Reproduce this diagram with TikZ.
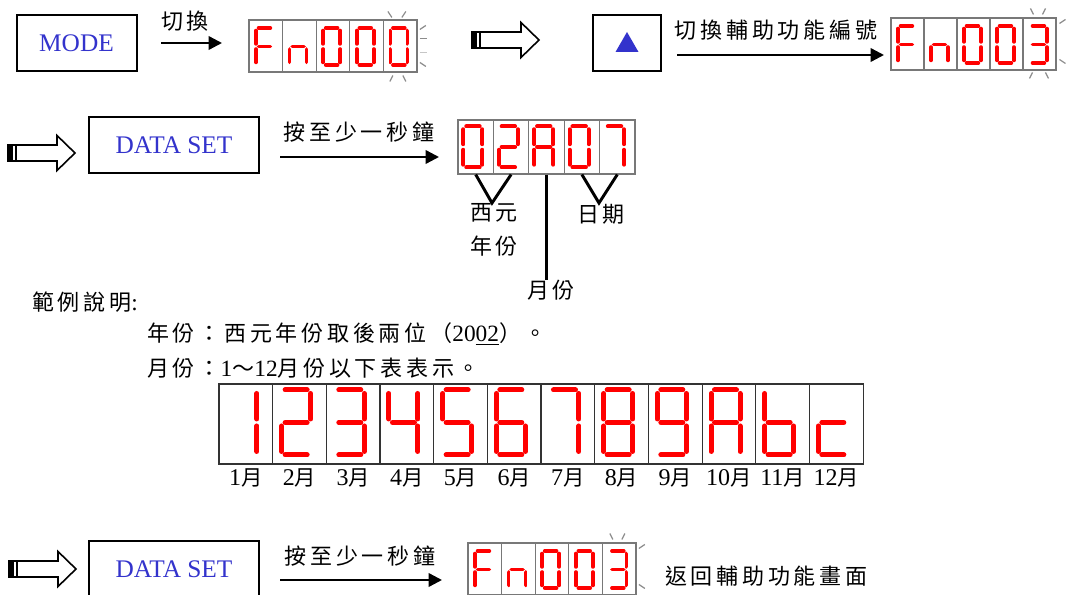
\documentclass[tikz,border=0pt]{standalone}
\usepackage{fontspec}
\setmainfont{Liberation Serif}
\newfontfamily\cjk[LetterSpace=17]{Noto Sans CJK TC}
\usetikzlibrary{arrows.meta, positioning}
\definecolor{keyblue}{RGB}{51,51,204}
\definecolor{segred}{RGB}{255,0,0}
\definecolor{framegray}{RGB}{120,120,120}
\definecolor{blinkgray}{RGB}{140,140,140}

\newcommand{\lnum}{\rmfamily\fontsize{17.5}{20}\selectfont}

% seven segment digits: a segment is a pair of corner points
\newcommand{\defdigit}[2]{\expandafter\def\csname dig#1\endcsname{#2}}
\defdigit{0}{tl/tr,tr/mr,mr/br,bl/br,ml/bl,tl/ml}
\defdigit{1}{tr/mr,mr/br}
\defdigit{2}{tl/tr,tr/mr,ml/mr,ml/bl,bl/br}
\defdigit{3}{tl/tr,tr/mr,mr/br,bl/br,ml/mr}
\defdigit{4}{tl/ml,ml/mr,tr/mr,mr/br}
\defdigit{5}{tl/tr,tl/ml,ml/mr,mr/br,bl/br}
\defdigit{6}{tl/tr,tl/ml,ml/bl,bl/br,mr/br,ml/mr}
\defdigit{7}{tl/tr,tr/mr,mr/br}
\defdigit{8}{tl/tr,tr/mr,mr/br,bl/br,ml/bl,tl/ml,ml/mr}
\defdigit{9}{tl/tr,tr/mr,mr/br,bl/br,tl/ml,ml/mr}
\defdigit{A}{tl/tr,tr/mr,mr/br,ml/bl,tl/ml,ml/mr}
\defdigit{b}{tl/ml,ml/bl,bl/br,mr/br,ml/mr}
\defdigit{c}{ml/mr,ml/bl,bl/br}
\defdigit{F}{tl/tr,tl/ml,ml/bl,ml/mr}
\defdigit{n}{ml/mr,ml/bl,mr/br}

% #1 line width, #2 top left, #3 width, #4 height, #5 digit
\newcommand{\segdigit}[5]{%
  \begin{scope}[shift={#2}]
    \coordinate (tl) at (0,0);
    \coordinate (tr) at (#3,0);
    \coordinate (ml) at (0,#4/2);
    \coordinate (mr) at (#3,#4/2);
    \coordinate (bl) at (0,#4);
    \coordinate (br) at (#3,#4);
    \edef\seglist{\csname dig#5\endcsname}%
    \foreach \p/\q in \seglist {\draw[seg=#1] (\p) -- (\q);}
  \end{scope}}

% blinking marks round the last digit
\newcommand{\blinkmarks}[1]{%
  \begin{scope}[shift={#1}]
    \draw[blink] (8,-9) -- (11,-3);
    \draw[blink] (23,-9) -- (20,-3);
    \draw[blink] (37,6) -- (43,2);
    \draw[blink] (37,42) -- (43,46);
    \draw[blink] (10,55) -- (7,61);
    \draw[blink] (23,55) -- (26,61);
  \end{scope}}

% hollow "then" arrow, #1 = middle of its tail
\newcommand{\thenarrow}[1]{%
  \begin{scope}[shift={#1}]
    \draw[line width=1.2pt, fill=white] (0,-8) -- (49,-8) -- (49,-17.5) -- (67,0)
      -- (49,17.5) -- (49,8) -- (0,8) -- cycle;
    \fill (0,-8) rectangle (5,8);
    \draw[line width=1pt] (8,-8) -- (8,8);
  \end{scope}}

\begin{document}
\begin{tikzpicture}[x=0.75pt, y=-0.75pt,
    key/.style={draw, line width=1.5pt, minimum height=42pt, text=keyblue, font=\fontsize{19}{22}\selectfont},
    arr/.style={-{Triangle[length=10pt, width=10pt]}, line width=1.8pt},
    lbl/.style={font=\cjk\fontsize{16.5}{19}\selectfont, inner sep=0pt},
    cell/.style={draw=framegray, line width=0.8pt, inner sep=0pt},
    seg/.style={draw=segred, line width=#1, line cap=round, shorten <=0.7*#1, shorten >=0.7*#1},
    blink/.style={draw=blinkgray, line width=0.9pt},
    bracket/.style={line width=2.2pt},
    month/.style={font=\rmfamily\fontsize{18}{20}\selectfont, inner sep=0pt}]
  \useasboundingbox (0,0) rectangle (1068,595);
  \clip (0,0) rectangle (1068,595);

  % first row
  \node[key, minimum width=90pt] (mode) at (76.5,43) {MODE};
  \node[lbl] (swlbl) at (185,21) {切換};
  \coordinate (a1s) at (161,43);
  \coordinate (a1e) at (222,43);
  \draw[arr] (a1s) -- (a1e);

  \foreach \c [count=\i] in {F,n,0,0,0} {
    \node[cell, minimum width=25.2pt, minimum height=39pt] (fa\i) at ({249+33.6*(\i-0.5)},46) {};
    \segdigit{2.8pt}{([shift={(7.5,8.5)}]fa\i.north west)}{17}{37}{\c}
  }
  \begin{scope}[shift={(fa5.north west)}]
    \draw[blink] (5,-8) -- (9,-2);
    \draw[blink] (23,-8) -- (19,-2);
    \draw[blink] (37,10) -- (43,6);
    \draw[blink] (37,19) -- (44,19);
    \draw[blink, blinkgray!50] (37,33) -- (44,33);
    \draw[blink] (37,43) -- (43,47);
    \draw[blink] (10,56) -- (7,62);
    \draw[blink] (20,56) -- (23,62);
  \end{scope}

  \thenarrow{(472,40)}

  \node[key, minimum width=51pt] (up) at (627,43) {};
  \fill[keyblue] ([shift={(-11.5,9)}]up.center) -- ([shift={(11.5,9)}]up.center)
    -- ([shift={(0,-11)}]up.center) -- cycle;
  \node[lbl] (fnlbl) at (776,30) {切換輔助功能編號};
  \coordinate (a2s) at (677,55);
  \coordinate (a2e) at (884,55);
  \draw[arr] (a2s) -- (a2e);

  \foreach \c [count=\i] in {F,n,0,0,3} {
    \node[cell, minimum width=24.75pt, minimum height=39pt] (fb\i) at ({891+33*(\i-0.5)},44) {};
    \segdigit{2.8pt}{([shift={(7.5,8.5)}]fb\i.north west)}{17}{37}{\c}
  }
  \blinkmarks{(fb5.north west)}

  % second row
  \thenarrow{(8,153)}
  \node[key, minimum width=127.5pt] (set1) at (174,145) {DATA SET};
  \node[lbl] (holdlbl) at (359,132) {按至少一秒鐘};
  \coordinate (a3s) at (280,157);
  \coordinate (a3e) at (439,157);
  \draw[arr] (a3s) -- (a3e);

  \foreach \c [count=\i] in {0,2,A,0,7} {
    \node[cell, minimum width=26.55pt, minimum height=40.5pt] (d\i) at ({458+35.4*(\i-0.5)},147) {};
    \segdigit{3pt}{([shift={(6,7)}]d\i.north west)}{19}{41}{\c}
  }
  \node[lbl, align=center, font=\cjk\fontsize{16.5}{25.5}\selectfont] (yrlbl) at (494,230) {西元\\年份};
  \node[lbl] (daylbl) at (601,214) {日期};
  \node[lbl] (molbl) at (551,290) {月份};
  \coordinate (yr) at (492,203);
  \coordinate (dy) at (599,203);
  \draw[bracket] (d1.south) -- (yr) -- (d2.south);
  \draw[bracket] (d4.south) -- (dy) -- (d5.south);
  \draw[bracket] (d3.south) -- (d3.south |- molbl.north);

  % example
  \node[lbl, anchor=west] (ex) at (32,302) {範例說明{\lnum :}};
  \node[lbl, anchor=west] (yrnote) at (147,334) {年份：西元年份取後兩位（{\lnum 20\underline{02}}）。};
  \node[lbl, anchor=west] (monote) at (147,368) {月份：{\lnum 1}～{\lnum 12}月份以下表表示。};

  \foreach \c [count=\i] in {1,2,3,4,5,6,7,8,9,A,b,c} {
    \node[cell, draw=black!80, minimum width=40.25pt, minimum height=60pt] (tb\i) at ({219+53.67*(\i-0.5)},424) {};
    \segdigit{3.75pt}{([shift={(9.5,6.5)}]tb\i.north west)}{29}{65}{\c}
    \node[month, below=3pt of tb\i] (mo\i) {\i{\cjk\fontsize{16}{18}\selectfont 月}};
  }

  % last row
  \thenarrow{(9,569)}
  \node[key, minimum width=127.5pt] (set2) at (174,569) {DATA SET};
  \node[lbl] (hold2lbl) at (360,556) {按至少一秒鐘};
  \coordinate (a4s) at (280,580);
  \coordinate (a4e) at (442,580);
  \draw[arr] (a4s) -- (a4e);

  \foreach \c [count=\i] in {F,n,0,0,3} {
    \node[cell, minimum width=25.2pt, minimum height=39pt] (fc\i) at ({468+33.6*(\i-0.5)},569) {};
    \segdigit{2.8pt}{([shift={(7.5,8.5)}]fc\i.north west)}{17}{37}{\c}
  }
  \blinkmarks{(fc5.north west)}
  \node[lbl, anchor=west] (backlbl) at (665,576) {返回輔助功能畫面};
\end{tikzpicture}
\end{document}
